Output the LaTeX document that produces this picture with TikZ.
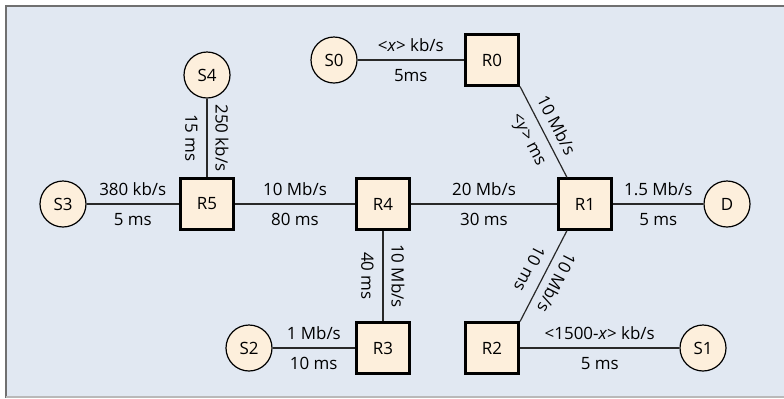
\documentclass[tikz,border=0pt]{standalone}
\usepackage{fontspec}
\setmainfont{Open Sans}
\usepackage{xcolor}
\definecolor{panel}{RGB}{225,232,242}
\definecolor{peach}{RGB}{253,239,220}
\definecolor{rule}{RGB}{112,112,112}
\definecolor{lightrule}{RGB}{185,185,185}
\definecolor{wire}{RGB}{40,40,40}
\tikzset{
  router/.style={rectangle, draw=black, line width=2.6bp, fill=peach, minimum width=53.5bp, minimum height=50.5bp, inner sep=0pt},
  host/.style={circle, draw=black, line width=1.2bp, fill=peach, minimum size=46bp, inner sep=0pt},
  link/.style={draw=wire, line width=1.2bp},
  rate/.style={midway, above, text depth=0pt, inner xsep=0pt, inner ysep=8bp},
  delay/.style={midway, below, text height=12bp, inner xsep=0pt, inner ysep=9bp},
}

\begin{document}
\begin{tikzpicture}[x=1bp, y=-1bp, every node/.style={font=\fontsize{17}{20}\selectfont}]
        \useasboundingbox (0,0) rectangle (784,398);
        % Panel
        \fill[panel] (5,5) rectangle (784,398);
        \draw[rule, line width=2bp] (784,6) -- (6,6) -- (6,398);
        \draw[lightrule, line width=1.5bp] (6,397) -- (784,397);

        % Routers
        \node[router] (R0) at (492,60) {R0};
        \node[router] (R1) at (585,204) {R1};
        \node[router] (R2) at (492,348) {R2};
        \node[router] (R3) at (383,348) {R3};
        \node[router] (R4) at (383,204) {R4};
        \node[router] (R5) at (207,204) {R5};

        % Hosts
        \node[host] (S0) at (334,60) {S0};
        \node[host] (S1) at (703,348) {S1};
        \node[host] (S2) at (249,348) {S2};
        \node[host] (S3) at (63,204) {S3};
        \node[host] (S4) at (207,75) {S4};
        \node[host] (D) at (727,204) {D};

        % Links
        \draw[link] (S0) -- (R0) node[rate] {<\textit{x}> kb/s} node[delay] {5ms};
        \draw[link] (R0.south east) -- ([xshift=-18bp]R1.north) node[rate, sloped] {10 Mb/s} node[delay, sloped] {<\textit{y}> ms};
        \draw[link] (S4) -- (R5) node[rate, sloped, allow upside down] {250 kb/s} node[delay, sloped, allow upside down] {15 ms};
        \draw[link] (S3) -- (R5) node[rate] {380 kb/s} node[delay] {5 ms};
        \draw[link] (R5) -- (R4) node[rate] {10 Mb/s} node[delay] {80 ms};
        \draw[link] (R4) -- (R1) node[rate] {20 Mb/s} node[delay] {30 ms};
        \draw[link] (R1) -- (D) node[rate] {1.5 Mb/s} node[delay] {5 ms};
        \draw[link] (R4) -- (R3) node[rate, sloped, allow upside down] {10 Mb/s} node[delay, sloped, allow upside down] {40 ms};
        \draw[link] ([xshift=-18bp]R1.south) -- (R2.north east) node[rate, sloped, allow upside down] {10 Mb/s} node[delay, sloped, allow upside down] {10 ms};
        \draw[link] (S2) -- (R3) node[rate] {1 Mb/s} node[delay] {10 ms};
        \draw[link] (R2) -- (S1) node[rate] {<1500-\textit{x}> kb/s} node[delay] {5 ms};
    \end{tikzpicture}
\end{document}
